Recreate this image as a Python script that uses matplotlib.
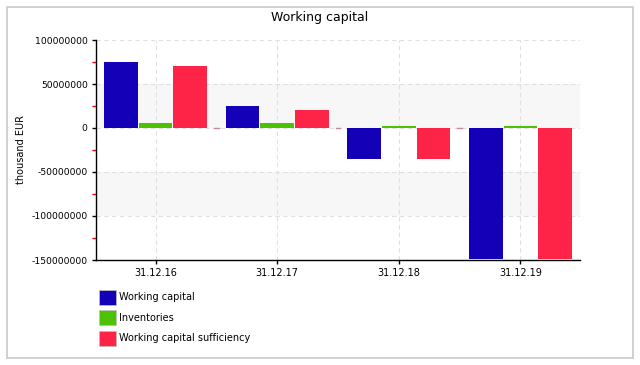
import matplotlib.pyplot as plt
import matplotlib.patches as mpatches
import numpy as np

# Data (thousand EUR)
dates = ['31.12.16', '31.12.17', '31.12.18', '31.12.19']
working_capital = [75000000, 25000000, -35000000, -149000000]
inventories = [6000000, 6000000, 2000000, 2000000]
wc_sufficiency = [70000000, 20000000, -35000000, -149000000]

series_names = ['Working capital', 'Inventories', 'Working capital sufficiency']
colors = ['#1400b6', '#4cc200', '#fe2447']

plt.rcParams['font.family'] = 'DejaVu Sans'
plt.rcParams['font.size'] = 7

fig = plt.figure(figsize=(6.4, 3.65), dpi=100)
ax = fig.add_axes([96 / 640, 105 / 365, 484 / 640, 220 / 365])

# outer frame
fig.patches.append(mpatches.Rectangle((7 / 640, 7 / 365), 626 / 640, 351 / 365,
                                      transform=fig.transFigure, fill=False,
                                      edgecolor='#c8c8c8', linewidth=1.2))

x = np.arange(len(dates))
width = 0.278
offsets = [-0.285, 0.0, 0.285]
all_vals = [working_capital, inventories, wc_sufficiency]

# alternating background bands
yticks = np.arange(-150000000, 100000001, 50000000)
for i in range(len(yticks) - 1):
    if i % 2 == 0:
        continue
    ax.axhspan(yticks[i], yticks[i + 1], color='#f7f7f7', zorder=0, linewidth=0)

for vals, off, c, name in zip(all_vals, offsets, colors, series_names):
    ax.bar(x + off, vals, width, color=c, label=name, zorder=3, linewidth=0)

# small pinkish marks between groups at zero
for xi in x[:-1]:
    ax.plot([xi + 0.5 - 0.02, xi + 0.5 + 0.02], [0, 0], color='#c88a96', lw=1, zorder=2)

ax.set_xlim(-0.49, 3.49)
ax.set_ylim(-150000000, 100000000)
ax.set_yticks(yticks)
ax.set_yticklabels([f'{int(v)}' for v in yticks], fontsize=6.7)
ax.set_yticks(np.arange(-125000000, 100000000, 50000000), minor=True)
ax.tick_params(axis='y', which='minor', length=3, color='red', width=1)
ax.tick_params(axis='y', which='major', length=3, width=1, pad=3)
ax.set_xticks(x)
ax.set_xticklabels(dates)
ax.tick_params(axis='x', length=3, width=1, pad=3)

ax.grid(True, which='major', linestyle=(0, (4, 3)), color='#e0e0e0', linewidth=0.8, zorder=1)
ax.set_axisbelow(True)
for s in ['top', 'right']:
    ax.spines[s].set_visible(False)
ax.spines['left'].set_linewidth(1)
ax.spines['bottom'].set_linewidth(1)

ax.set_ylabel('thousand EUR', labelpad=4)
fig.text(0.5, 1 - 18 / 365, 'Working capital', ha='center', va='center', fontsize=9)

handles = [mpatches.Patch(facecolor=c, edgecolor='#c0c0c0', linewidth=0.5) for c in colors]
fig.legend(handles, series_names, loc='upper left', bbox_to_anchor=(91 / 640, 1 - 282 / 365),
           frameon=False, handlelength=1.75, handleheight=2.0, handletextpad=0.3,
           labelspacing=0.55, fontsize=7, borderpad=0.3)

fig.savefig('out.png', dpi=100)
